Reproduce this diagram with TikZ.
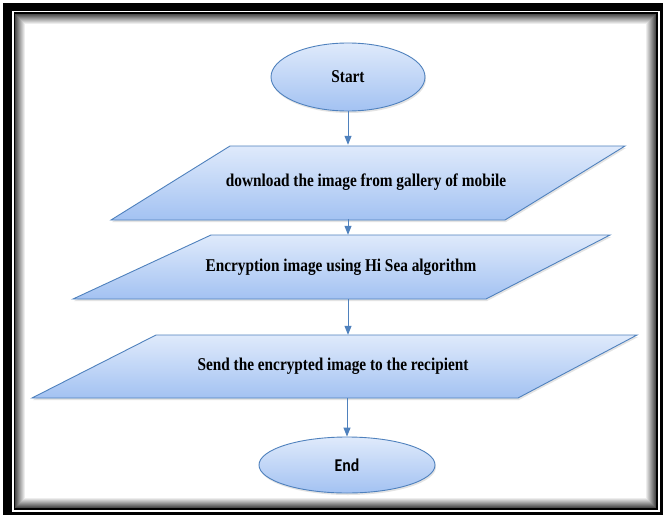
\documentclass[tikz,border=0pt]{standalone}
\usepackage{fontspec}
\setmainfont{Liberation Serif}[FakeStretch=0.85]
\newfontfamily\calibri{Carlito}[FakeStretch=0.88]
\usetikzlibrary{shapes.geometric,arrows.meta,shadows}
\definecolor{flowline}{RGB}{79,129,189}
\definecolor{fillhi}{RGB}{223,234,251}
\definecolor{filllo}{RGB}{163,194,242}

\begin{document}
\begin{tikzpicture}[x=1pt,y=-1pt]
		\tikzstyle {shape fill} = [draw=flowline, line width=0.9pt, top color=fillhi, bottom color=filllo, drop shadow={opacity=0.22, shadow xshift=1pt, shadow yshift=-2pt}]
		\tikzstyle {terminal} = [shape fill, ellipse, inner sep=0pt]
		\tikzstyle {io label} = [inner sep=0pt, font=\fontsize{18}{21}\selectfont\bfseries]
		\tikzstyle {flow} = [draw=flowline, line width=1pt, -{Triangle[length=9pt, width=7pt]}]

		% frame
		\useasboundingbox (0,0) rectangle (663,519);
		\fill[white] (0,0) rectangle (663,519);
		\fill[black] (3,3) rectangle (663,515);
		\fill[white] (12,11) rectangle (660,512);
		\fill[black] (13.5,12.5) rectangle (658,510);
		\foreach \i in {0,...,10} {
			\pgfmathtruncatemacro\g{70-7*\i}
			\fill[black!\g] (15+\i,14+\i) rectangle (656-\i,508-\i);
		}

		% input/output boxes
		\draw[shape fill] (230,146) -- (625,146) -- (505,220) -- (111,220) -- cycle;
		\draw[shape fill] (211,235) -- (610,235) -- (486,299) -- (73,299) -- cycle;
		\draw[shape fill] (156,335) -- (637,335) -- (518,398) -- (32,398) -- cycle;

		\node[terminal, minimum width=154pt, minimum height=68pt, font=\fontsize{18}{21}\selectfont\bfseries] (start) at (348,77) {Start};
		\node[io label, minimum height=74pt] (dl) at (366,182) {download the image from gallery of mobile};
		\node[io label, minimum height=64pt] (enc) at (341,267) {Encryption image using Hi Sea algorithm};
		\node[io label, minimum height=63pt] (send) at (333,366.5) {Send the encrypted image to the recipient};
		\node[terminal, minimum width=176pt, minimum height=56pt, font=\calibri\fontsize{18}{21}\selectfont\bfseries] (end) at (347,465) {End};

		\draw[flow] (start.south) -- (start.south |- dl.north);
		\draw[flow] (dl.south -| start.south) -- (enc.north -| start.south);
		\draw[flow] (enc.south -| start.south) -- (send.north -| start.south);
		\draw[flow] (send.south -| end.north) -- (end.north);
	\end{tikzpicture}
\end{document}
